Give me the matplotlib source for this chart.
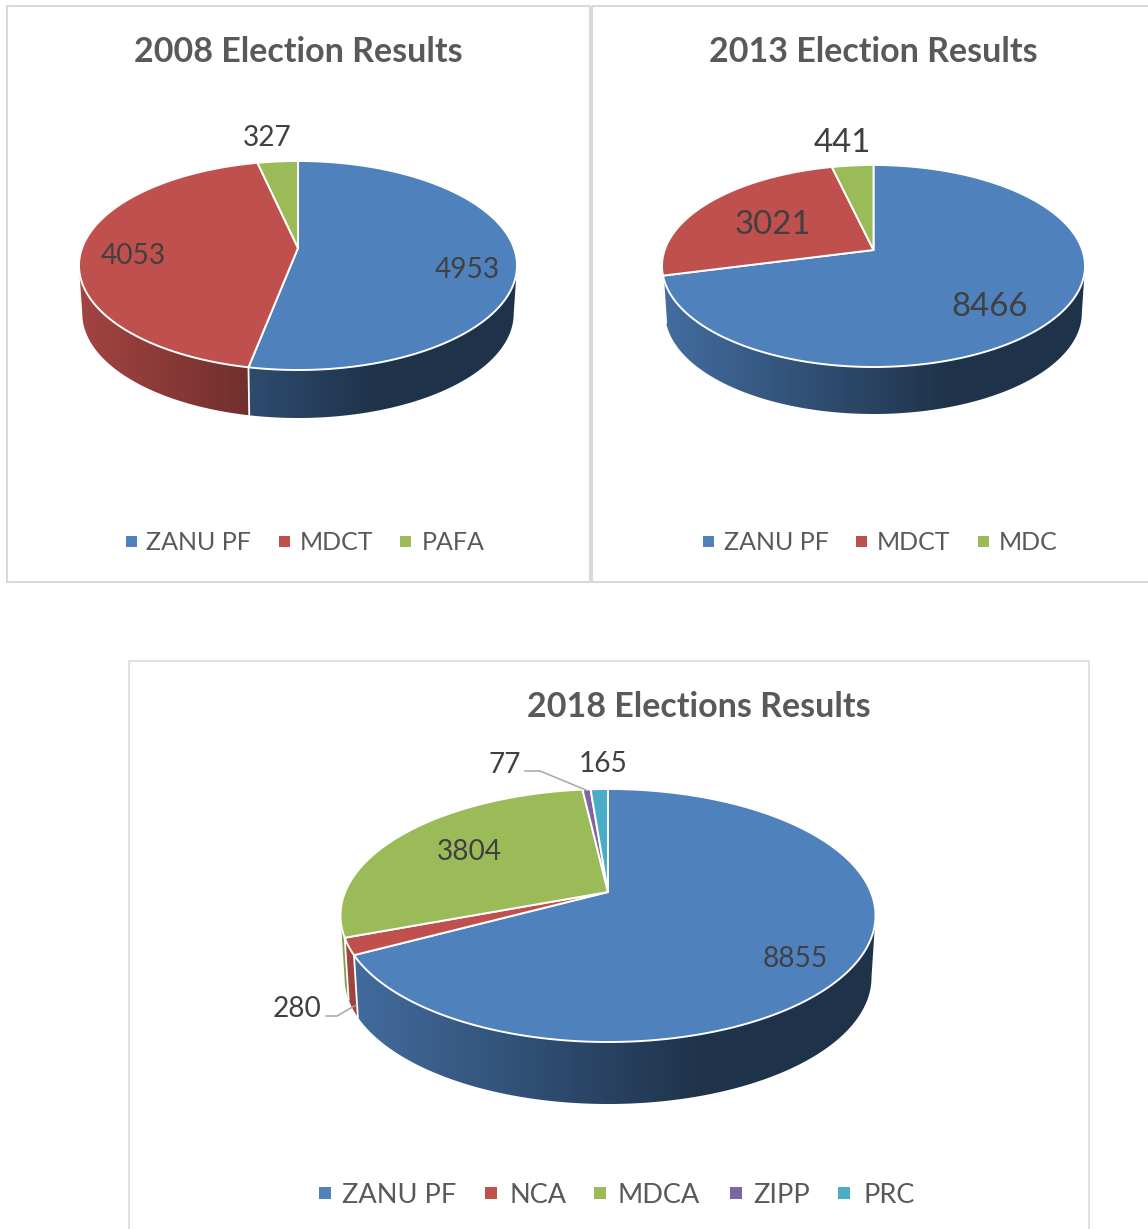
# Three pseudo 3D election pies, drawn in image pixel coordinates
import numpy as np
import matplotlib
matplotlib.use('Agg')
import matplotlib.pyplot as plt
from matplotlib.patches import Rectangle, Polygon

plt.rcParams['font.family'] = ['Lato', 'DejaVu Sans']

# Data
parties_2008 = ['ZANU PF', 'MDCT', 'PAFA']
votes_2008 = [4953, 4053, 327]
parties_2013 = ['ZANU PF', 'MDCT', 'MDC']
votes_2013 = [8466, 3021, 441]
parties_2018 = ['ZANU PF', 'NCA', 'MDCA', 'ZIPP', 'PRC']
votes_2018 = [8855, 280, 3804, 77, 165]

# Colors
colors_2008 = ['#4f81bd', '#c0504d', '#9bbb59']
colors_2013 = ['#4f81bd', '#c0504d', '#9bbb59']
colors_2018 = ['#4f81bd', '#c0504d', '#9bbb59', '#8064a2', '#4bacc6']
title_color = '#595959'
label_color = '#404040'
legend_color = '#595959'
border_color = '#d9d9d9'

width_px, height_px = 1148, 1229
fig = plt.figure(figsize=(width_px / 100, height_px / 100), dpi=100)
ax = fig.add_axes([0, 0, 1, 1])
ax.set_xlim(0, width_px)
ax.set_ylim(height_px, 0)
ax.axis('off')


# Point on the rim for a clockwise angle from the top, with the perspective of a tilted disc
def rim(theta, geo, shift=0.0, squeeze=1.0):
    cx, cy, up, down, half_w = geo
    p = (down - up) / (down + up)
    a = up * (1 + p)
    r = half_w * np.sqrt(1 - p ** 2)
    w = 1 + p * np.cos(theta)
    return cx + squeeze * r * np.sin(theta) / w, cy - a * np.cos(theta) / w + shift


def draw_pie(values, colors, geo, depth):
    cx, cy, up, down, half_w = geo
    edges = np.concatenate([[0], np.cumsum(values)]) / np.sum(values) * 2 * np.pi
    p = (down - up) / (down + up)
    right = np.arccos(-p)
    left = 2 * np.pi - right
    # side wall, shaded from left to right
    for i, col in enumerate(colors):
        a, b = max(edges[i], right), min(edges[i + 1], left)
        if b <= a:
            continue
        th = np.linspace(a, b, 200)
        xt, yt = rim(th, geo)
        xb, yb = rim(th[::-1], geo, depth, 0.985)
        poly = Polygon(np.column_stack([np.r_[xt, xb], np.r_[yt, yb]]), closed=True,
                       facecolor='none', edgecolor='none')
        ax.add_patch(poly)
        t = np.linspace(0, 1, 400)
        shade = np.interp(t, [0, 0.68, 1], [0.85, 0.39, 0.39])
        rgb = np.array(matplotlib.colors.to_rgb(col))
        img = (shade[:, None] * rgb)[None, :, :]
        im = ax.imshow(img, extent=[cx - half_w, cx + half_w, cy + down + depth + 2, cy - up],
                       aspect='auto', zorder=2)
        im.set_clip_path(poly)
        # white seam between two wall pieces
        if b < left:
            x0, y0 = rim(b, geo)
            x1, y1 = rim(b, geo, depth, 0.985)
            ax.plot([x0, x1], [y0, y1], color='white', lw=1.3, zorder=3)
    ax.set_xlim(0, width_px)
    ax.set_ylim(height_px, 0)
    # top face
    for i, col in enumerate(colors):
        th = np.linspace(edges[i], edges[i + 1], 300)
        xs, ys = rim(th, geo)
        ax.fill(np.r_[cx, xs], np.r_[cy, ys], facecolor=col, edgecolor='white', lw=1.4,
                joinstyle='round', zorder=4)


def draw_legend(parties, colors, box_x, text_x, y, size, box):
    for name, col, bx, tx in zip(parties, colors, box_x, text_x):
        ax.add_patch(Rectangle((bx, y - box / 2), box, box, facecolor=col, edgecolor='none', zorder=5))
        ax.text(tx, y, name, color=legend_color, fontsize=size, ha='left', va='center_baseline', zorder=5)


# Panel frames
ax.add_patch(Rectangle((7, 6), 583, 576, facecolor='none', edgecolor=border_color, lw=1.5))
ax.add_patch(Rectangle((592, 6), 570, 576, facecolor='none', edgecolor=border_color, lw=1.5, clip_on=True))
ax.plot([129, 129, 1089, 1089], [1229, 661, 661, 1229], color=border_color, lw=1.1)

# 2008
draw_pie(votes_2008, colors_2008, (298, 248, 87, 122, 219), 48)
ax.text(298, 51.5, '2008 Election Results', color=title_color, fontsize=24.5, fontweight='bold', ha='center', va='center')
for txt, x, y in zip(votes_2008, [467, 133, 267], [270, 256, 138]):
    ax.text(x, y, str(txt), color=label_color, fontsize=20.2, ha='center', va='center', zorder=6)
draw_legend(parties_2008, colors_2008, [126, 279, 400], [146, 300, 422], 541, 18, 11)

# 2013
draw_pie(votes_2013, colors_2013, (873.5, 250, 85, 117, 211.5), 47)
ax.text(873, 51.5, '2013 Election Results', color=title_color, fontsize=24.5, fontweight='bold', ha='center', va='center')
for txt, x, y in zip(votes_2013, [989.5, 773, 842], [307, 225, 143]):
    ax.text(x, y, str(txt), color=label_color, fontsize=23.8, ha='center', va='center', zorder=6)
draw_legend(parties_2013, colors_2013, [703, 856, 978], [724, 877, 999], 541, 18, 11)

# 2018
draw_pie(votes_2018, colors_2018, (608, 892, 103, 150, 267.5), 62)
ax.text(699, 707, '2018 Elections Results', color=title_color, fontsize=24.5, fontweight='bold', ha='center', va='center')
for txt, x, y in zip(votes_2018, [795, 297, 469, 505, 603], [959, 1009, 852, 765, 764]):
    ax.text(x, y, str(txt), color=label_color, fontsize=20.2, ha='center', va='center', zorder=6)
ax.plot([525, 540, 586], [771, 771, 790], color='#a6a6a6', lw=1.1, zorder=6)
ax.plot([326, 337, 356], [1016, 1016, 1005], color='#a6a6a6', lw=1.1, zorder=6)
draw_legend(parties_2018, colors_2018, [319, 485, 594, 730, 838], [342, 509, 618, 753, 863], 1193, 19.5, 12)

fig.savefig('out.png', dpi=100, facecolor='white')
